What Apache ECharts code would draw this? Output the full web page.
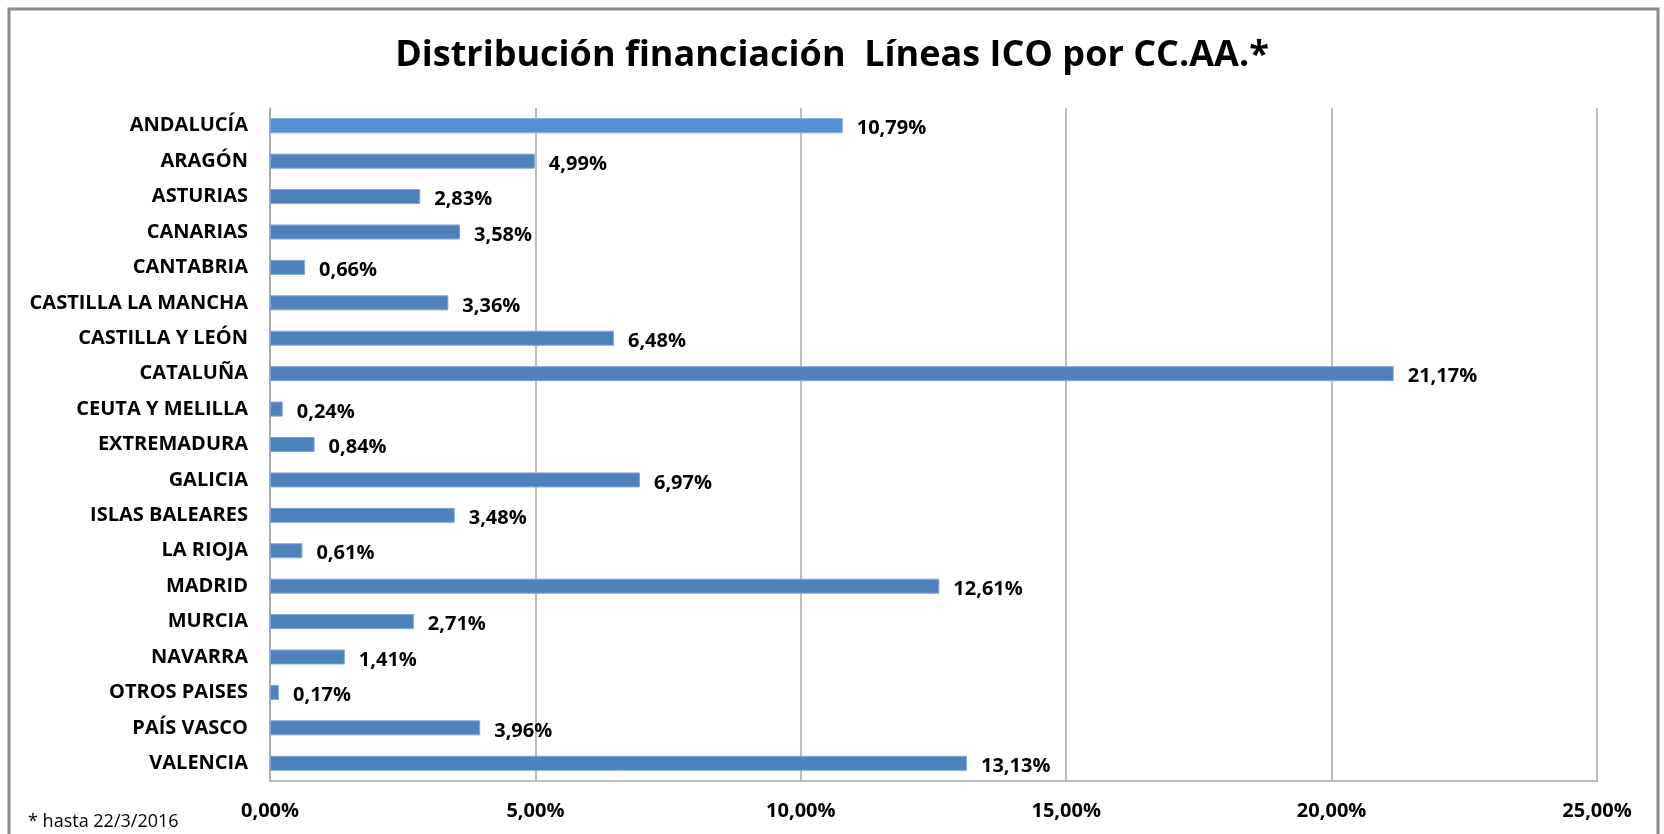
<!DOCTYPE html>
<html lang="es">

<head>
  <meta charset="UTF-8">
  <title>Distribución financiación Líneas ICO por CC.AA.</title>
  <style>
    html, body { margin: 0; padding: 0; background: #fff; }
  </style>
</head>

<body>
  <div id="main" style="width: 1664px;height:834px;"></div>

  <script src="https://cdn.jsdelivr.net/npm/echarts@6/dist/echarts.min.js"></script>
  <script>

  // datos
  const regiones = ['ANDALUCÍA', 'ARAGÓN', 'ASTURIAS', 'CANARIAS', 'CANTABRIA',
    'CASTILLA LA MANCHA', 'CASTILLA Y LEÓN', 'CATALUÑA', 'CEUTA Y MELILLA', 'EXTREMADURA',
    'GALICIA', 'ISLAS BALEARES', 'LA RIOJA', 'MADRID', 'MURCIA', 'NAVARRA',
    'OTROS PAISES', 'PAÍS VASCO', 'VALENCIA'];
  const porcentajes = [10.79, 4.99, 2.83, 3.58, 0.66, 3.36, 6.48, 21.17, 0.24, 0.84,
    6.97, 3.48, 0.61, 12.61, 2.71, 1.41, 0.17, 3.96, 13.13];
  const ejeMin = 0;
  const ejeMax = 25;
  const ejePaso = 5;

  const fuente = '"Open Sans", "Noto Sans", sans-serif';
  const fmt = v => v.toFixed(2).replace('.', ',') + '%';

  let myChart = echarts.init(document.getElementById('main'));
  let option = {
    backgroundColor: '#fff',
    animation: false,
    title: {
      text: 'Distribución financiación  Líneas ICO por CC.AA.*',
      left: 'center',
      top: 33,
      textStyle: { fontFamily: fuente, fontWeight: 'bold', fontSize: 36, color: '#000' }
    },
    graphic: [
      {
        type: 'rect',
        shape: { x: 9, y: 9, width: 1649, height: 840 },
        style: { fill: 'none', stroke: '#8a8a8a', lineWidth: 3 },
        z: -1
      },
      {
        type: 'text',
        left: 28,
        top: 813,
        style: { text: '* hasta 22/3/2016', fontFamily: fuente, fontSize: 18, fill: '#000' }
      }
    ],
    grid: { left: 270, right: 67, top: 108, bottom: 53 },
    xAxis: {
      type: 'value',
      min: ejeMin,
      max: ejeMax,
      interval: ejePaso,
      axisLine: { show: true, lineStyle: { color: '#a6a6a6', width: 1.5 } },
      axisTick: { show: false },
      splitLine: { show: true, lineStyle: { color: '#a6a6a6', width: 1.5 } },
      axisLabel: {
        margin: 20,
        formatter: fmt,
        fontFamily: fuente, fontWeight: 'bold', fontSize: 20, color: '#000'
      }
    },
    yAxis: {
      type: 'category',
      inverse: true,
      data: regiones,
      axisLine: { show: true, lineStyle: { color: '#a6a6a6', width: 1.5 } },
      axisTick: { show: false },
      axisLabel: {
        margin: 22,
        fontFamily: fuente, fontWeight: 'bold', fontSize: 20, color: '#000'
      }
    },
    series: [{
      type: 'bar',
      barWidth: 15,
      data: porcentajes.map((v, i) => ({
        value: v,
        itemStyle: { color: i === 0 ? '#558ed5' : '#4f81bd' }
      })),
      itemStyle: { borderColor: '#7fa6d8', borderWidth: 1 },
      label: {
        show: true,
        position: 'right',
        distance: 14,
        offset: [0, 3],
        formatter: p => fmt(p.value),
        fontFamily: fuente, fontWeight: 'bold', fontSize: 20, color: '#000'
      }
    }]
  };

  myChart.setOption(option);
  </script>
</body>

</html>
